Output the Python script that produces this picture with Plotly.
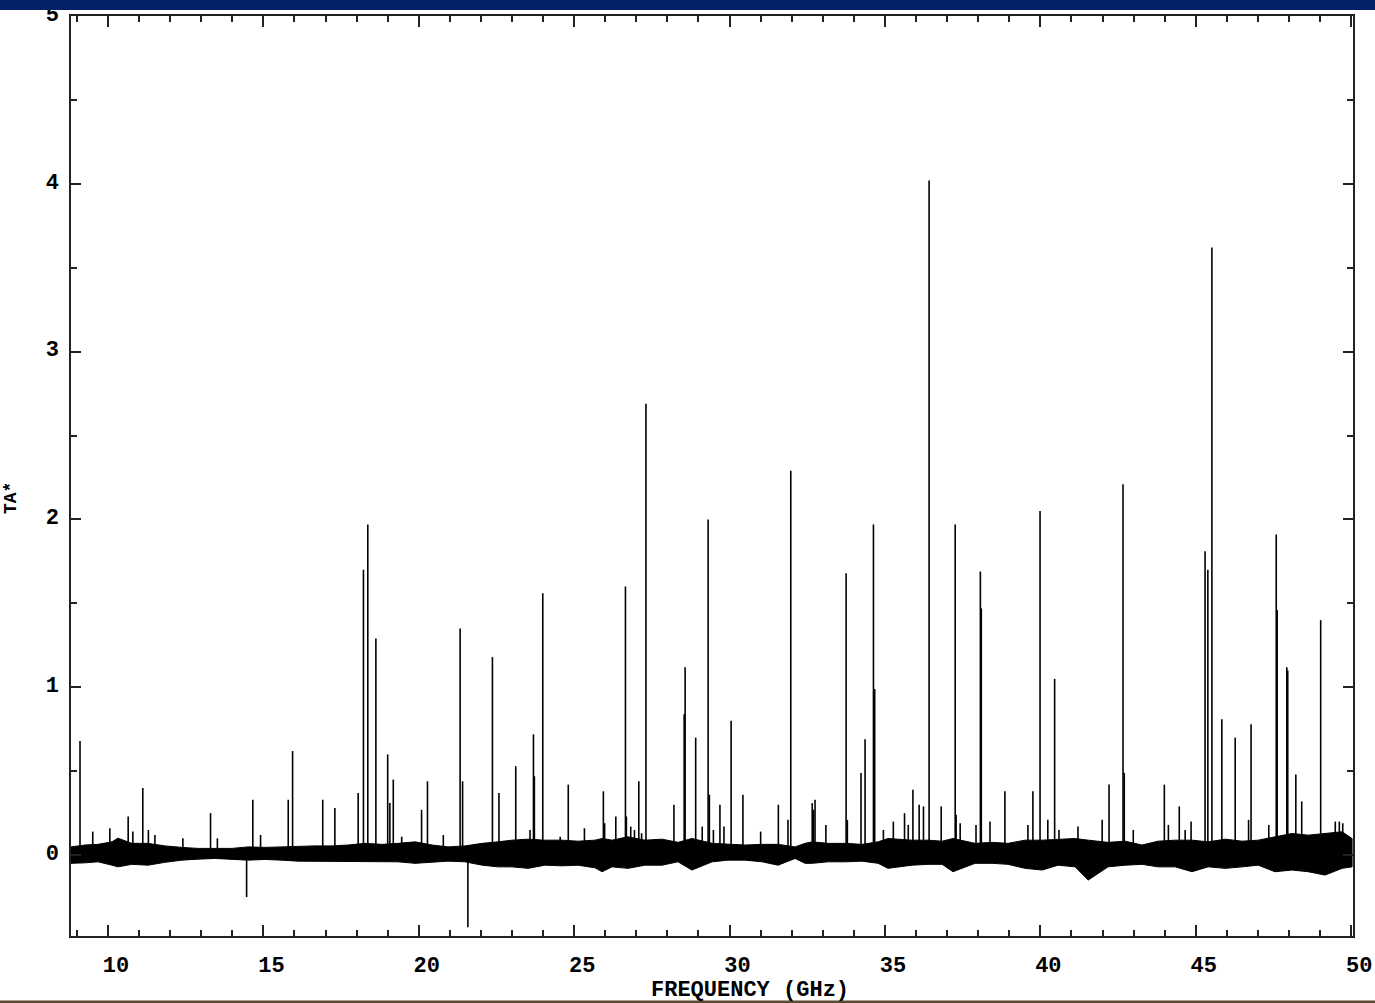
import plotly.graph_objects as go

# ---- Spectral line peaks: frequency (GHz) and antenna temperature TA* ----
line_freq = [
    9.10, 9.51, 10.06, 10.65, 10.80, 11.12, 11.30, 11.51, 12.41, 13.30,
    13.52, 14.46, 14.66, 14.91, 15.80, 15.94, 16.91, 17.30, 18.05, 18.22,
    18.36, 18.62, 19.00, 19.07, 19.18, 19.45, 20.09, 20.28, 20.79, 21.33,
    21.41, 21.58, 22.37, 22.58, 23.12, 23.58, 23.69, 23.72, 23.99, 24.55,
    24.81, 25.33, 25.94, 25.98, 26.34, 26.65, 26.68, 26.82, 26.94, 27.08,
    27.17, 27.31, 28.21, 28.54, 28.57, 28.91, 29.12, 29.31, 29.35, 29.48,
    29.69, 29.82, 30.05, 30.43, 31.00, 31.57, 31.88, 31.97, 32.66, 32.70,
    32.75, 33.10, 33.75, 33.79, 34.23, 34.36, 34.63, 34.67, 34.95, 35.27,
    35.63, 35.75, 35.90, 36.10, 36.24, 36.42, 36.81, 37.26, 37.29, 37.42,
    37.93, 38.07, 38.10, 38.38, 38.86, 39.60, 39.76, 39.99, 40.24, 40.46,
    40.60, 41.21, 41.99, 42.21, 42.66, 42.70, 42.99, 43.99, 44.12, 44.47,
    44.66, 44.85, 45.30, 45.39, 45.52, 45.84, 46.27, 46.70, 46.78, 47.35,
    47.59, 47.62, 47.93, 47.96, 48.22, 48.41, 49.02, 49.49, 49.62, 49.73,
]
line_ta = [
    0.68, 0.14, 0.16, 0.23, 0.14, 0.40, 0.15, 0.12, 0.10, 0.25,
    0.10, -0.25, 0.33, 0.12, 0.33, 0.62, 0.33, 0.28, 0.37, 1.70,
    1.97, 1.29, 0.60, 0.31, 0.45, 0.11, 0.27, 0.44, 0.12, 1.35,
    0.44, -0.43, 1.18, 0.37, 0.53, 0.15, 0.72, 0.47, 1.56, 0.11,
    0.42, 0.16, 0.38, 0.19, 0.23, 1.60, 0.23, 0.17, 0.15, 0.44,
    0.13, 2.69, 0.30, 0.84, 1.12, 0.70, 0.17, 2.00, 0.36, 0.15,
    0.30, 0.17, 0.80, 0.36, 0.14, 0.30, 0.21, 2.29, 0.31, 0.27,
    0.33, 0.18, 1.68, 0.21, 0.49, 0.69, 1.97, 0.99, 0.15, 0.20,
    0.25, 0.18, 0.39, 0.30, 0.29, 4.02, 0.29, 1.97, 0.24, 0.19,
    0.18, 1.69, 1.47, 0.20, 0.38, 0.18, 0.38, 2.05, 0.21, 1.05,
    0.15, 0.17, 0.21, 0.42, 2.21, 0.49, 0.15, 0.42, 0.18, 0.29,
    0.15, 0.20, 1.81, 1.70, 3.62, 0.81, 0.70, 0.21, 0.78, 0.18,
    1.91, 1.46, 1.12, 1.10, 0.48, 0.32, 1.40, 0.20, 0.20, 0.19,
]

# ---- Baseline noise envelope (upper / lower extent of the noise band) ----
noise_freq = [
    8.81, 9.26, 9.68, 10.13, 10.32, 10.77, 11.29, 11.83, 12.38, 12.90,
    13.44, 13.99, 14.51, 15.05, 15.60, 16.11, 16.66, 17.21, 17.72, 18.27,
    18.82, 19.33, 19.88, 20.43, 20.94, 21.49, 22.04, 22.55, 23.00, 23.52,
    24.06, 24.61, 25.12, 25.67, 25.90, 26.22, 26.73, 27.28, 27.83, 28.34,
    28.79, 29.44, 29.95, 30.50, 31.05, 31.56, 32.11, 32.43, 32.66, 33.17,
    33.72, 34.26, 34.78, 35.10, 35.87, 36.39, 36.84, 37.19, 37.90, 38.45,
    38.96, 39.51, 40.06, 40.57, 41.12, 41.54, 42.18, 42.73, 43.27, 43.79,
    44.34, 44.88, 45.40, 45.95, 46.49, 47.01, 47.55, 48.10, 48.62, 49.16,
    49.71, 50.03,
]
noise_upper = [
    0.049, 0.060, 0.064, 0.079, 0.101, 0.070, 0.070, 0.055, 0.046, 0.040,
    0.040, 0.040, 0.049, 0.046, 0.049, 0.054, 0.055, 0.055, 0.060, 0.070,
    0.064, 0.070, 0.079, 0.060, 0.049, 0.055, 0.070, 0.079, 0.089, 0.095,
    0.089, 0.089, 0.083, 0.089, 0.099, 0.089, 0.109, 0.089, 0.095, 0.076,
    0.099, 0.070, 0.064, 0.060, 0.064, 0.064, 0.049, 0.070, 0.079, 0.070,
    0.070, 0.064, 0.079, 0.099, 0.089, 0.089, 0.083, 0.099, 0.070, 0.076,
    0.070, 0.089, 0.089, 0.095, 0.099, 0.089, 0.076, 0.083, 0.060, 0.083,
    0.089, 0.089, 0.079, 0.095, 0.083, 0.089, 0.109, 0.129, 0.119, 0.129,
    0.139, 0.099,
]
noise_lower = [
    -0.049, -0.046, -0.040, -0.060, -0.070, -0.055, -0.060, -0.043, -0.030, -0.024,
    -0.020, -0.024, -0.030, -0.026, -0.030, -0.036, -0.040, -0.036, -0.040, -0.036,
    -0.040, -0.040, -0.049, -0.043, -0.036, -0.040, -0.060, -0.070, -0.070, -0.079,
    -0.060, -0.064, -0.060, -0.076, -0.099, -0.070, -0.079, -0.060, -0.060, -0.040,
    -0.089, -0.040, -0.030, -0.030, -0.040, -0.060, -0.020, -0.049, -0.049, -0.040,
    -0.040, -0.036, -0.049, -0.079, -0.060, -0.055, -0.055, -0.099, -0.049, -0.049,
    -0.055, -0.079, -0.089, -0.060, -0.070, -0.149, -0.070, -0.060, -0.055, -0.070,
    -0.070, -0.099, -0.070, -0.079, -0.070, -0.060, -0.099, -0.089, -0.099, -0.119,
    -0.079, -0.070,
]

x_ticks = [10, 15, 20, 25, 30, 35, 40, 45, 50]
y_ticks = [0, 1, 2, 3, 4, 5]

FONT = "Liberation Mono"
INK = "#000000"

fig = go.Figure()

# noise band as a closed polygon: upper edge forward, lower edge backward
fig.add_trace(go.Scatter(
    x=noise_freq + noise_freq[::-1],
    y=noise_upper + noise_lower[::-1],
    mode="lines", fill="toself", fillcolor=INK,
    line=dict(color=INK, width=1), hoverinfo="skip", showlegend=False,
))

# each line drawn as a vertical stick from zero to its peak
sx, sy = [], []
for f, t in zip(line_freq, line_ta):
    sx += [f, f, None]
    sy += [0, t, None]
fig.add_trace(go.Scatter(
    x=sx, y=sy, mode="lines",
    line=dict(color=INK, width=1.6), showlegend=False,
))

W, H = 1375, 1003
ML, MR, MT, MB = 71, 22, 16, 67
PW, PH = W - ML - MR, H - MT - MB

axis_common = dict(
    showline=True, linecolor="#222", linewidth=1.5, mirror="ticks",
    ticks="inside", tickcolor="#222", tickwidth=1.5,
    showgrid=False, zeroline=False, automargin=False,
    tickfont=dict(family=FONT, size=22, color=INK, weight="bold"),
)

fig.update_xaxes(
    range=[8.81, 50.06], tickvals=x_ticks, ticklen=11,
    minor=dict(ticks="inside", ticklen=6, dtick=1, tick0=0,
               tickcolor="#222", tickwidth=1.5, showgrid=False),
    ticklabelshift=8, ticklabelstandoff=8,
    **axis_common,
)
fig.update_yaxes(
    range=[-0.482, 5.0], tickvals=y_ticks, ticklen=10,
    minor=dict(ticks="inside", ticklen=6, dtick=0.5, tick0=0,
               tickcolor="#222", tickwidth=1.5, showgrid=False),
    ticklabelshift=-3, ticklabelstandoff=6,
    **axis_common,
)

fig.add_annotation(
    text="FREQUENCY (GHz)", xref="paper", yref="paper",
    x=(750 - ML) / PW, y=-(991 - (H - MB)) / PH,
    xanchor="center", yanchor="middle", showarrow=False,
    font=dict(family=FONT, size=22, color=INK, weight="bold"),
)
fig.add_annotation(
    text="TA*", xref="paper", yref="paper",
    x=(11 - ML) / PW, y=((H - MB) - 498) / PH, textangle=-90,
    xanchor="center", yanchor="middle", showarrow=False,
    font=dict(family=FONT, size=18, color=INK, weight="bold"),
)

# navy band across the top and thin brown rule at the bottom of the page
fig.add_shape(type="rect", xref="paper", yref="paper",
              x0=-ML / PW, x1=1 + MR / PW,
              y0=1 + (MT - 10) / PH, y1=1 + MT / PH + 0.01,
              fillcolor="#022166", line=dict(width=0), layer="above")
fig.add_shape(type="rect", xref="paper", yref="paper",
              x0=-ML / PW, x1=1 + MR / PW,
              y0=-(1003 - (H - MB)) / PH, y1=-(1000.5 - (H - MB)) / PH,
              fillcolor="#5b4a2e", line=dict(width=0), layer="below")

fig.update_layout(
    width=W, height=H,
    margin=dict(l=ML, r=MR, t=MT, b=MB, autoexpand=False),
    paper_bgcolor="white", plot_bgcolor="white",
    showlegend=False,
)

fig.write_html("out.html")
